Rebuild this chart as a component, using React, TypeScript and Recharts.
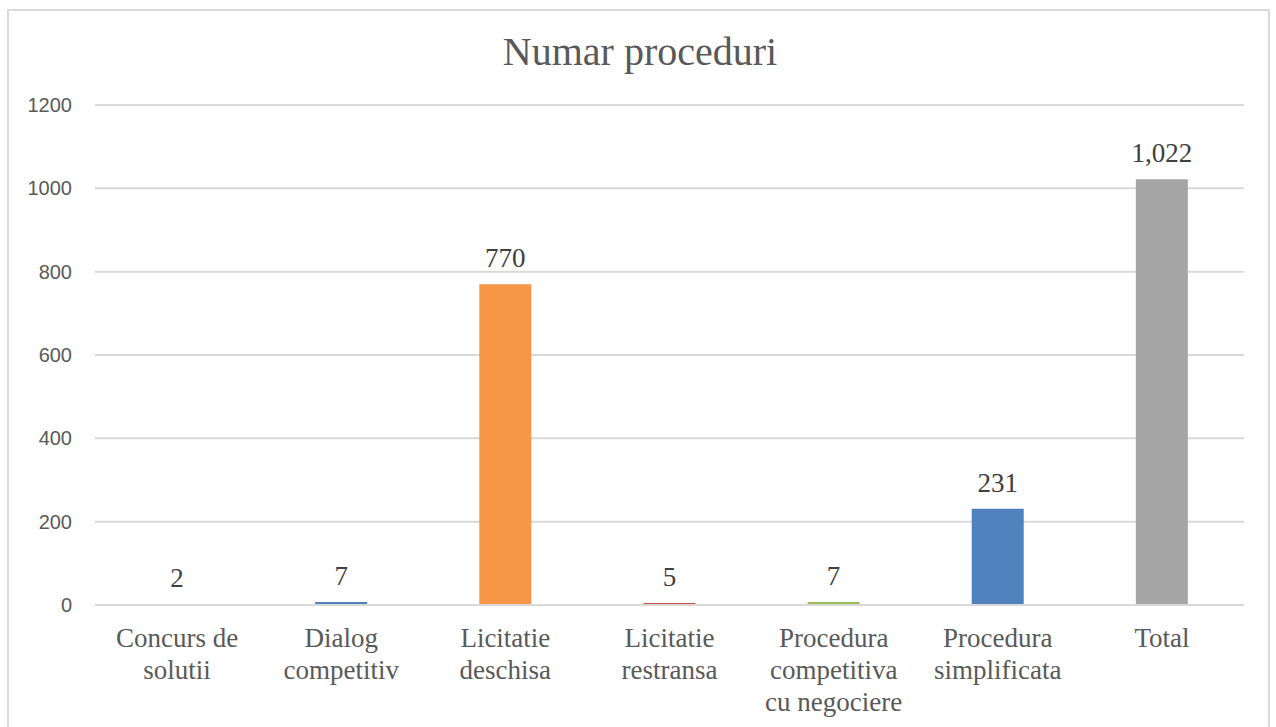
import { BarChart, Bar, XAxis, YAxis, CartesianGrid, Cell, LabelList } from 'recharts'

const categories = [
  'Concurs de solutii',
  'Dialog competitiv',
  'Licitatie deschisa',
  'Licitatie restransa',
  'Procedura competitiva cu negociere',
  'Procedura simplificata',
  'Total',
]
// wrapped the way the reference wraps them
const categoryLines = [
  ['Concurs de', 'solutii'],
  ['Dialog', 'competitiv'],
  ['Licitatie', 'deschisa'],
  ['Licitatie', 'restransa'],
  ['Procedura', 'competitiva', 'cu negociere'],
  ['Procedura', 'simplificata'],
  ['Total'],
]
const values = [2, 7, 770, 5, 7, 231, 1022]
const barColors = ['#4f81bd', '#4f81bd', '#f79646', '#c0504d', '#9bbb59', '#4f81bd', '#a5a5a5']
const yTicks = [0, 200, 400, 600, 800, 1000, 1200]

const data = categories.map((name, i) => ({ name, value: values[i], idx: i }))

const serif = '"Liberation Serif", "DejaVu Serif", serif'

function CategoryTick(props: any) {
  const { x, y, index } = props
  const lines = categoryLines[index] || [props.payload.value]
  return (
    <g transform={`translate(${x},${y})`}>
      {lines.map((ln: string, i: number) => (
        <text
          key={i}
          x={0}
          y={34 + i * 32}
          textAnchor="middle"
          fill="#595959"
          fontFamily={serif}
          fontSize={27}
        >
          {ln}
        </text>
      ))}
    </g>
  )
}

export default function App() {
  return (
    <div style={{ position: 'absolute', left: 0, top: 0, width: 1276, height: 727, background: '#fff', overflow: 'hidden' }}>
      <div
        style={{
          position: 'absolute',
          left: 7,
          top: 9,
          width: 1263,
          height: 740,
          border: '2px solid #d9d9d9',
          boxSizing: 'border-box',
        }}
      />
      <div
        style={{
          position: 'absolute',
          left: 0,
          top: 29,
          width: 1280,
          textAlign: 'center',
          fontFamily: serif,
          fontSize: 40,
          color: '#595959',
          lineHeight: '46px',
        }}
      >
        Numar proceduri
      </div>
      <div style={{ position: 'absolute', left: 0, top: 0 }}>
        <BarChart
          width={1276}
          height={727}
          data={data}
          margin={{ top: 105, right: 32, bottom: 0, left: 0 }}
          barCategoryGap={0}
        >
          <CartesianGrid vertical={false} stroke="#d9d9d9" strokeWidth={2} />
          <XAxis
            dataKey="name"
            interval={0}
            height={122}
            tickLine={false}
            axisLine={{ stroke: '#d9d9d9', strokeWidth: 2 }}
            tick={<CategoryTick />}
          />
          <YAxis
            domain={[0, 1200]}
            ticks={yTicks}
            width={95}
            axisLine={false}
            tickLine={false}
            tickSize={0}
            tickMargin={23}
            tick={{ fill: '#595959', fontSize: 20, fontFamily: '"Liberation Sans", Arial, sans-serif' }}
          />
          <Bar dataKey="value" barSize={52} isAnimationActive={false}>
            {data.map((d) => (
              <Cell key={d.idx} fill={barColors[d.idx]} />
            ))}
            <LabelList
              dataKey="value"
              position="top"
              offset={17}
              formatter={(v: any) => Number(v).toLocaleString('en-US')}
              style={{ fill: '#404040', fontSize: 27, fontFamily: serif }}
            />
          </Bar>
        </BarChart>
      </div>
    </div>
  )
}
